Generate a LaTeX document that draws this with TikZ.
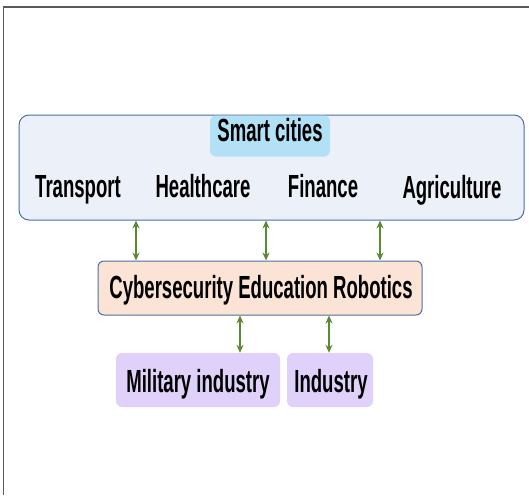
\documentclass[tikz,border=0pt]{standalone}
\usepackage{fontspec}
\setmainfont[FakeStretch=0.58]{Liberation Sans}
\usetikzlibrary{arrows.meta}
\definecolor{bigfill}{HTML}{ECF0F9}
\definecolor{edge}{HTML}{4A6FA8}
\definecolor{skyfill}{HTML}{B2E0F5}
\definecolor{peach}{HTML}{FBE3D5}
\definecolor{lav}{HTML}{E0D1FA}
\definecolor{arrgreen}{HTML}{5A8A32}
\begin{document}
\begin{tikzpicture}[x=1pt,y=-1pt,
  lbl/.style={font=\fontsize{32}{36}\selectfont\bfseries, inner sep=0pt},
  panel/.style={draw=edge, line width=1pt, rounded corners=10pt, inner sep=0pt},
  tag/.style={rounded corners=6pt, inner sep=0pt},
  arr/.style={draw=arrgreen, line width=1.8pt, {Stealth[length=8pt,width=7pt]}-{Stealth[length=8pt,width=7pt]}}
]
\useasboundingbox (0,0) rectangle (529,495);
% cropped frame
\draw[gray!70!black, line width=1.5pt] (3.5,495) coordinate (fbl) -- (3.5,7) coordinate (ftl) -- (529,7) coordinate (ftr);
% main panel
\node[panel, fill=bigfill, minimum width=505pt, minimum height=105pt] (big) at (271.5,167.5) {};
\node[tag, fill=skyfill, minimum width=120pt, minimum height=41pt] (smart) at (270,136) {};
\node[lbl, anchor=base] (smarttxt) at (270,141) {Smart cities};
\node[lbl, anchor=base] (transport) at (78,197) {Transport};
\node[lbl, anchor=base] (health) at (203,197) {Healthcare};
\node[lbl, anchor=base] (finance) at (323,197) {Finance};
\node[lbl, anchor=base] (agri) at (452,198) {Agriculture};
% middle panel
\node[panel, fill=peach, rounded corners=6pt, minimum width=324pt, minimum height=54pt] (mid) at (260,288) {};
\node[lbl, anchor=base] (midtxt) at (261,298) {Cybersecurity Education Robotics};
% bottom tags
\node[tag, fill=lav, minimum width=164pt, minimum height=54pt] (mil) at (198,380) {};
\node[lbl, anchor=base] (miltxt) at (198,392) {Military industry};
\node[tag, fill=lav, minimum width=86pt, minimum height=54pt] (ind) at (330,380) {};
\node[lbl, anchor=base] (indtxt) at (331,392) {Industry};
% arrow columns
\coordinate (c1) at (136,0);
\coordinate (c2) at (266,0);
\coordinate (c3) at (380,0);
\coordinate (c4) at (240,0);
\coordinate (c5) at (329,0);
\draw[arr] (big.south -| c1) -- (mid.north -| c1);
\draw[arr] (big.south -| c2) -- (mid.north -| c2);
\draw[arr] (big.south -| c3) -- (mid.north -| c3);
\draw[arr] (mid.south -| c4) -- (mil.north -| c4);
\draw[arr] (mid.south -| c5) -- (ind.north -| c5);
\end{tikzpicture}
\end{document}
